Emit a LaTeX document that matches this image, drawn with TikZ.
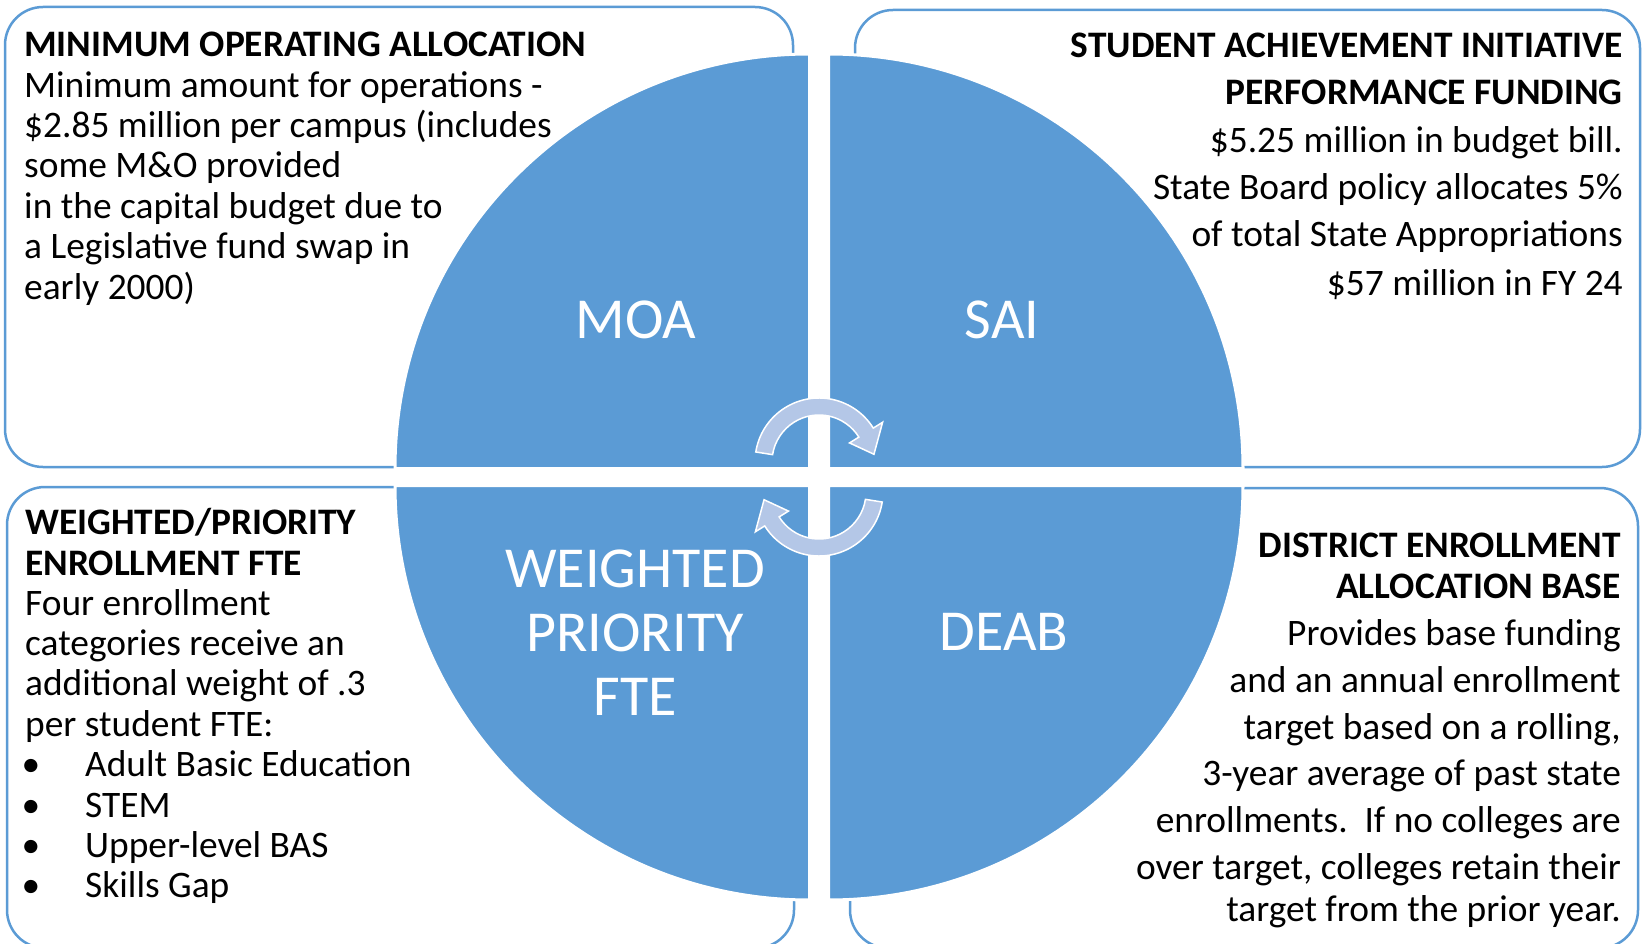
\documentclass[tikz,border=0pt]{standalone}
\usepackage{fontspec}
\setmainfont{Carlito}
\usetikzlibrary{calc}
\definecolor{pieblue}{HTML}{5B9BD5}
\definecolor{arrowblue}{HTML}{B4C7E7}
\begin{document}
\begin{tikzpicture}[x=1pt,y=-1pt,
  boxsty/.style={draw=pieblue, line width=2.5pt, rounded corners=38pt},
  quadsty/.style={fill=pieblue, draw=white, line width=3pt},
  arrowsty/.style={fill=arrowblue, draw=white, line width=1.5pt},
  bigtext/.style={text=white, inner sep=0pt, font=\fontsize{58}{64}\selectfont},
  bodytext/.style={inner sep=0pt, font=\fontsize{37.4}{40}\selectfont},
  headtext/.style={inner sep=0pt, font=\fontsize{37.4}{40}\selectfont\bfseries},
]
\useasboundingbox (0,0) rectangle (1642,944);
\fill[white] (0,0) rectangle (1642,944);
% outer boxes
\draw[boxsty] (5,7) rectangle (793,467);
\draw[boxsty] (855,10) rectangle (1640,467);
\draw[boxsty] (7,487) rectangle (794,948);
\draw[boxsty] (850,488) rectangle (1638,948);
% pie quadrants
\coordinate (qtl) at (809.5,468.5);
\coordinate (qtr) at (828.5,468.5);
\coordinate (qbl) at (809.5,485.5);
\coordinate (qbr) at (828.5,485.5);
\path[quadsty] (qtl) -- ++(-414.5,0) arc[start angle=180, end angle=270, radius=414.5] -- cycle;
\path[quadsty] (qtr) -- ++(0,-414.5) arc[start angle=270, end angle=360, radius=414.5] -- cycle;
\path[quadsty] (qbr) -- ++(414.5,0) arc[start angle=0, end angle=90, radius=414.5] -- cycle;
\path[quadsty] (qbl) -- ++(0,414.5) arc[start angle=90, end angle=180, radius=414.5] -- cycle;
% circular arrows
\coordinate (ca) at (819,462);
\coordinate (cb) at (819,492);
\path[arrowsty] ($(ca)+(189:64)$) arc[start angle=189, end angle=328, radius=64]
  -- ($(ca)+(328:75)$) -- ($(ca)+(352:55.5)$) -- ($(ca)+(328:36)$) -- ($(ca)+(328:47)$)
  arc[start angle=328, end angle=189, radius=47] -- cycle;
\path[arrowsty] ($(cb)+(9:64)$) arc[start angle=9, end angle=148, radius=64]
  -- ($(cb)+(148:75)$) -- ($(cb)+(172:55.5)$) -- ($(cb)+(148:36)$) -- ($(cb)+(148:47)$)
  arc[start angle=148, end angle=9, radius=47] -- cycle;
% quadrant labels
\node[bigtext, anchor=base] (moa) at (636,338) {MOA};
\node[bigtext, anchor=base] (sai) at (1002,338) {SAI};
\node[bigtext, anchor=base] (deab) at (1004,650) {DEAB};
\node[bigtext, align=center, anchor=center] (wpf) at (635,633) {WEIGHTED\\PRIORITY\\FTE};
% top-left text
\node[headtext, anchor=base west] (tlh) at (24,57) {MINIMUM OPERATING ALLOCATION};
\foreach \yy/\txt [count=\i] in {98/{Minimum amount for operations -},
  138/{\$2.85 million per campus (includes},
  178/{some M\&O provided},
  219/{in the capital budget due to},
  259/{a Legislative fund swap in},
  299/{early 2000)}}
  \node[bodytext, anchor=base west] (tl\i) at (24,\yy) {\txt};
% top-right text
\node[headtext, anchor=base east] (trh1) at (1623,58) {STUDENT ACHIEVEMENT INITIATIVE};
\node[headtext, anchor=base east] (trh2) at (1623,105) {PERFORMANCE FUNDING};
\foreach \yy/\txt [count=\i] in {153/{\$5.25 million in budget bill.},
  200/{State Board policy allocates 5\%},
  247/{of total State Appropriations},
  295/{\$57 million in FY 24}}
  \node[bodytext, anchor=base east] (tr\i) at (1623,\yy) {\txt};
% bottom-left text
\node[headtext, anchor=base west] (blh1) at (25,534) {WEIGHTED/PRIORITY};
\node[headtext, anchor=base west] (blh2) at (25,575) {ENROLLMENT FTE};
\foreach \yy/\txt [count=\i] in {615.5/{Four enrollment},
  655.5/{categories receive an},
  695.5/{additional weight of .3},
  736.5/{per student FTE:}}
  \node[bodytext, anchor=base west] (bl\i) at (25,\yy) {\txt};
\foreach \yy/\txt [count=\i] in {776.5/{Adult Basic Education},
  817/{STEM},
  857/{Upper-level BAS},
  897/{Skills Gap}}
  {
  \node[bodytext, anchor=base] (bb\i) at (31,\yy) {•};
  \node[bodytext, anchor=base west] (bt\i) at (85,\yy) {\txt};
  }
% bottom-right text
\node[headtext, anchor=base east] (brh1) at (1621,557.5) {DISTRICT ENROLLMENT};
\node[headtext, anchor=base east] (brh2) at (1621,598) {ALLOCATION BASE};
\foreach \yy/\txt [count=\i] in {645/{Provides base funding},
  692/{and an annual enrollment},
  739/{target based on a rolling,},
  785/{3-year average of past state},
  832/{enrollments.\ \ If no colleges are},
  879/{over target, colleges retain their},
  921/{target from the prior year.}}
  \node[bodytext, anchor=base east] (br\i) at (1621,\yy) {\txt};
\end{tikzpicture}
\end{document}
